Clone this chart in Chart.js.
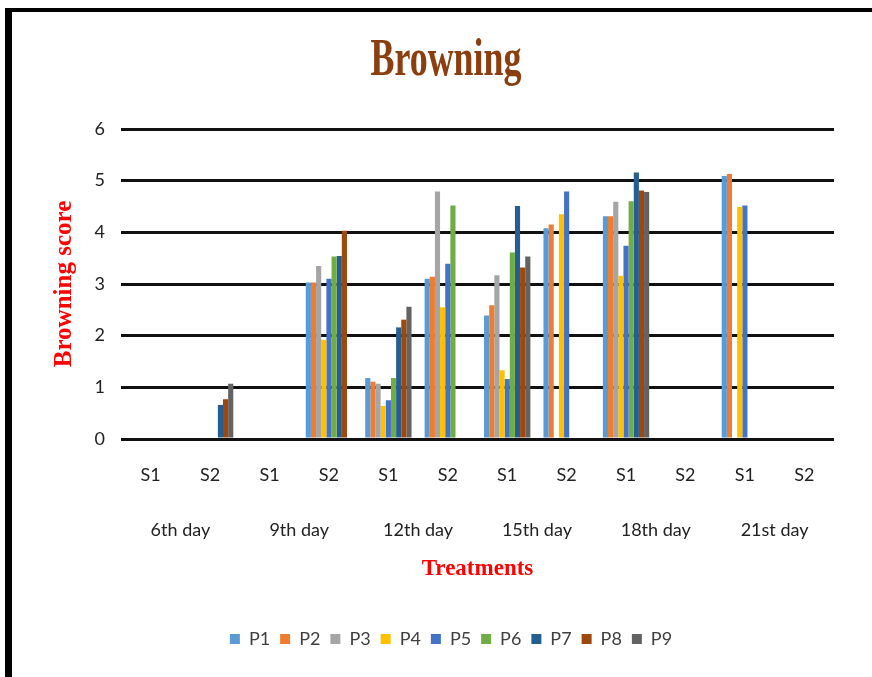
<!DOCTYPE html>
<html>
<head>
<meta charset="utf-8">
<script src="https://cdn.jsdelivr.net/npm/chart.js@4.4.0/dist/chart.umd.min.js"></script>
<style>
  html, body { margin: 0; padding: 0; background: #fff; overflow: hidden; }
  #wrap { position: relative; width: 872px; height: 677px; }
  #frame {
    position: absolute; left: 5px; top: 8px; width: 900px; height: 700px;
    border-left: 7px solid #000; border-top: 4px solid #000; pointer-events: none;
  }
</style>
</head>
<body>
<div id="wrap">
  <canvas id="myChart"></canvas>
  <div id="frame"></div>
</div>
<script>
// values
const categories = ['S1', 'S2', 'S1', 'S2', 'S1', 'S2', 'S1', 'S2', 'S1', 'S2', 'S1', 'S2'];
const days = ['6th day', '9th day', '12th day', '15th day', '18th day', '21st day'];
const yTicks = [0, 1, 2, 3, 4, 5, 6];

const P1 = [0, 0, 0, 3.03, 1.18, 3.10, 2.39, 4.08, 4.31, 0, 5.09, 0];
const P2 = [0, 0, 0, 3.03, 1.11, 3.14, 2.59, 4.15, 4.31, 0, 5.13, 0];
const P3 = [0, 0, 0, 3.35, 1.07, 4.79, 3.17, 0, 4.59, 0, 0, 0];
const P4 = [0, 0, 0, 1.92, 0.64, 2.55, 1.33, 4.35, 3.16, 0, 4.49, 0];
const P5 = [0, 0, 0, 3.10, 0.75, 3.39, 1.16, 4.79, 3.74, 0, 4.52, 0];
const P6 = [0, 0, 0, 3.53, 1.18, 4.52, 3.61, 0, 4.60, 0, 0, 0];
const P7 = [0, 0.66, 0, 3.54, 2.16, 0, 4.51, 0, 5.16, 0, 0, 0];
const P8 = [0, 0.77, 0, 4.03, 2.31, 0, 3.32, 0, 4.81, 0, 0, 0];
const P9 = [0, 1.07, 0, 0, 2.56, 0, 3.53, 0, 4.78, 0, 0, 0];

const seriesNames = ['P1', 'P2', 'P3', 'P4', 'P5', 'P6', 'P7', 'P8', 'P9'];
const seriesData = [P1, P2, P3, P4, P5, P6, P7, P8, P9];
const colors = ['#5B9BD5', '#ED7D31', '#A5A5A5', '#FFC000', '#4472C4', '#70AD47', '#255E91', '#9E480E', '#636363'];

const tickFont = { family: 'Lato', size: 18 };

// big condensed serif title, drawn on the canvas
const titlePlugin = {
    id: 'bigTitle',
    afterLayout(chart) {
        // legend sits a bit right of centre in the original
        chart.legend.left += 30;
        chart.legend.right += 30;
    },
    afterDraw(chart) {
        const ctx = chart.ctx;
        ctx.save();
        ctx.font = 'bold 52px "Liberation Serif"';
        ctx.fillStyle = '#8B3E0F';
        ctx.textAlign = 'center';
        ctx.textBaseline = 'alphabetic';
        ctx.translate(446, 75);
        ctx.scale(0.69, 1);
        ctx.fillText('Browning', 0, 0);
        ctx.restore();
    }
};

const ctx = document.getElementById('myChart').getContext('2d');
const myChart = new Chart(ctx, {
    type: 'bar',
    data: {
        labels: categories,
        datasets: seriesNames.map((name, i) => ({
            label: name,
            data: seriesData[i],
            backgroundColor: colors[i],
            borderWidth: 0,
            categoryPercentage: 0.78,
            barPercentage: 1.0
        }))
    },
    plugins: [titlePlugin],
    options: {
        responsive: true,
        maintainAspectRatio: false,
        animation: false,
        layout: {
            padding: { top: 129, left: 8, right: 38, bottom: 19 }
        },
        plugins: {
            title: { display: false },
            tooltip: { enabled: false },
            legend: {
                position: 'bottom',
                labels: {
                    boxWidth: 10,
                    boxHeight: 10,
                    padding: 10,
                    color: '#404040',
                    font: { family: 'Lato', size: 18 }
                }
            }
        },
        scales: {
            x: {
                type: 'category',
                grid: { display: false, drawTicks: false },
                border: { display: false },
                ticks: { color: '#222', font: tickFont, padding: 25, maxRotation: 0 },
                afterFit(scale) { scale.height = 58; }
            },
            x2: {
                type: 'category',
                labels: days,
                position: 'bottom',
                offset: true,
                grid: { display: false, drawTicks: false },
                border: { display: false },
                ticks: { color: '#222', font: tickFont, padding: 22, maxRotation: 0 },
                title: {
                    display: true,
                    text: 'Treatments',
                    color: '#FF0000',
                    font: { family: 'Liberation Serif', size: 23, weight: 'bold' },
                    padding: { top: 0, bottom: 37 }
                },
                afterFit(scale) { scale.height = 123; }
            },
            y: {
                min: 0,
                max: 6,
                afterBuildTicks(scale) { scale.ticks = yTicks.map(v => ({ value: v })); },
                grid: { color: '#111', lineWidth: 3, drawTicks: false },
                border: { display: false },
                ticks: { color: '#222', font: tickFont, padding: 16 },
                title: {
                    display: true,
                    text: 'Browning score',
                    color: '#FF0000',
                    font: { family: 'Liberation Serif', size: 25, weight: 'bold' },
                    padding: { top: 42, bottom: 0 }
                },
                afterFit(scale) { scale.width = 113; }
            }
        }
    }
});
</script>
</body>
</html>
